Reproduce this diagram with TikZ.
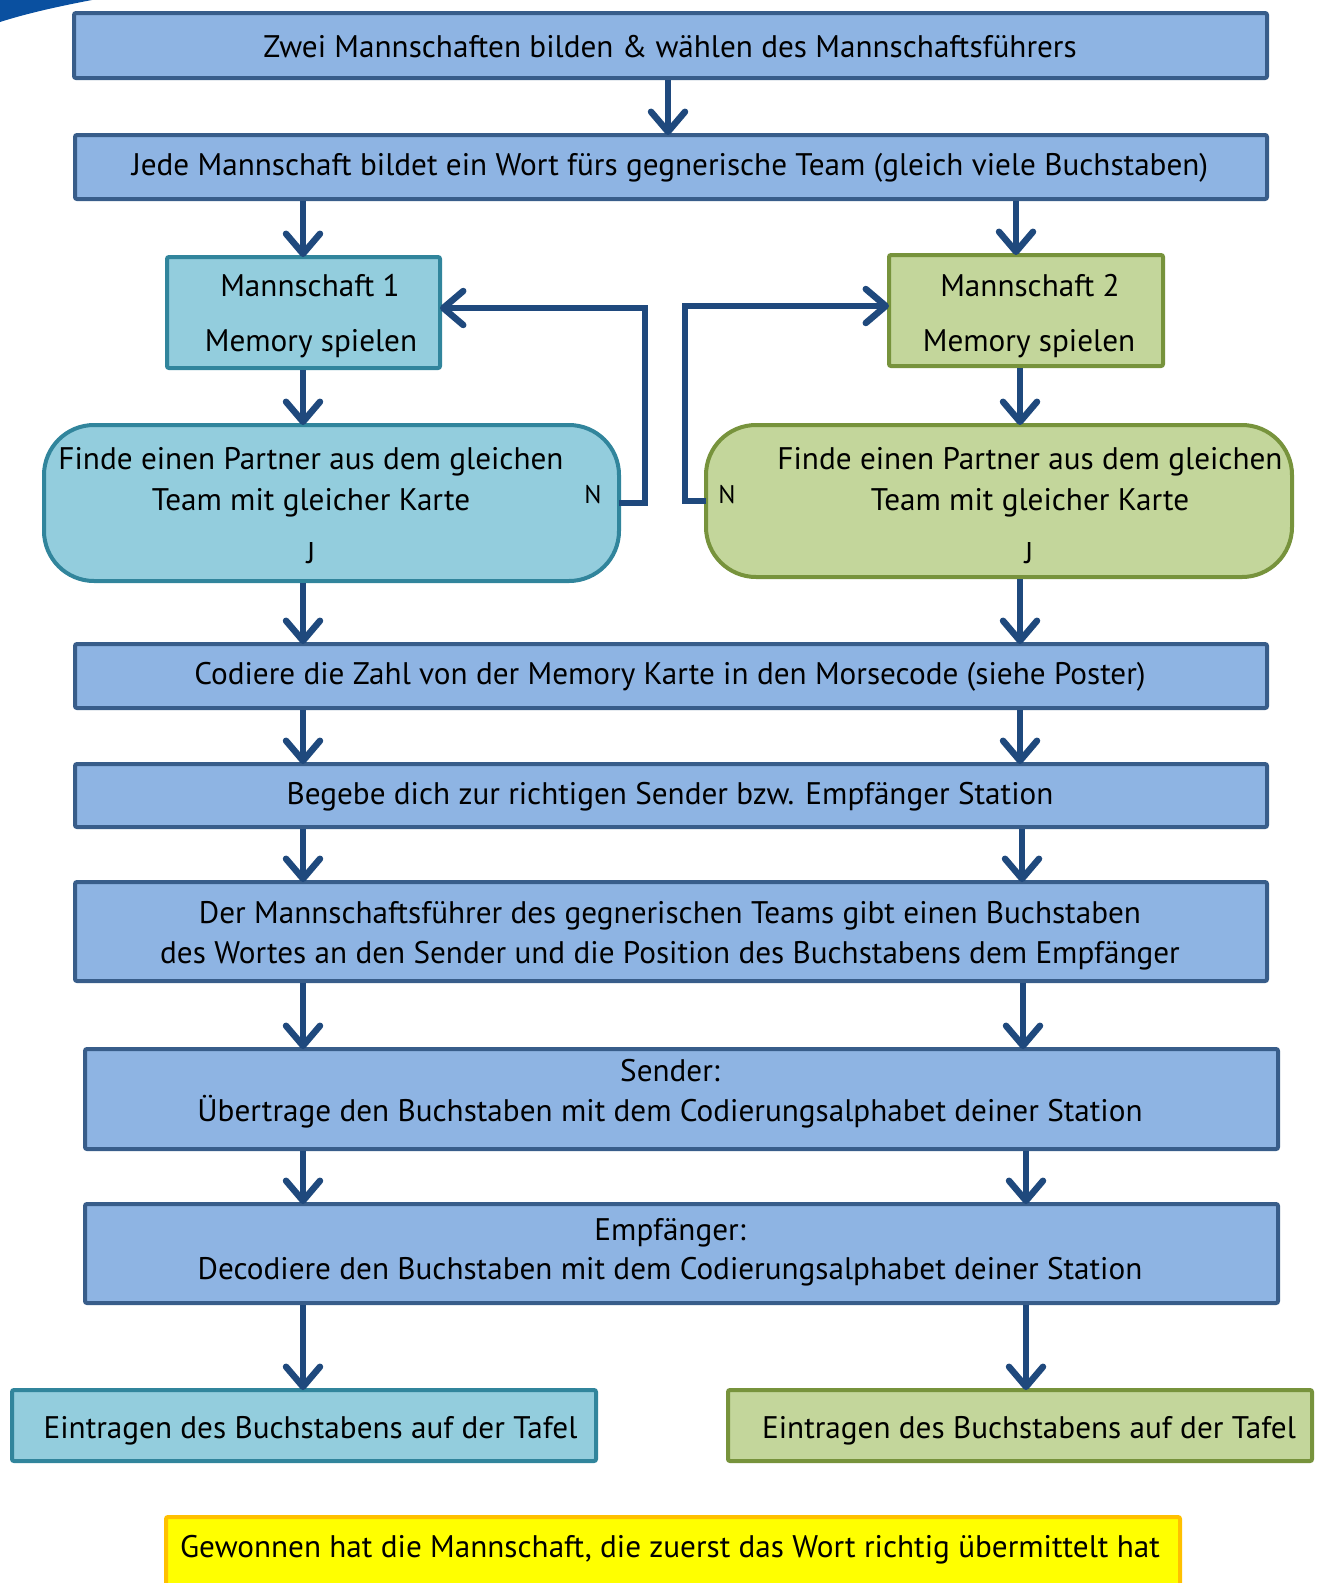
\documentclass[tikz,border=0pt]{standalone}
\usepackage{fontspec}
\setmainfont{PT Sans}
\usetikzlibrary{arrows.meta}
\definecolor{bfill}{HTML}{8EB4E3}
\definecolor{bdraw}{HTML}{385D8A}
\definecolor{tfill}{HTML}{93CDDD}
\definecolor{tdraw}{HTML}{31859C}
\definecolor{gfill}{HTML}{C3D69B}
\definecolor{gdraw}{HTML}{77933C}
\definecolor{arrc}{HTML}{1F497D}
\definecolor{yfill}{HTML}{FFFF00}
\definecolor{ydraw}{HTML}{FFC000}
\definecolor{swoosh}{HTML}{0A50A0}
\begin{document}
\begin{tikzpicture}[x=1pt,y=-1pt,
  base/.style={line width=4pt, inner sep=0pt, outer sep=0pt, rounded corners=2pt, rectangle},
  bluebox/.style={base, draw=bdraw, fill=bfill},
  tealbox/.style={base, draw=tdraw, fill=tfill},
  greenbox/.style={base, draw=gdraw, fill=gfill},
  yelbox/.style={base, draw=ydraw, fill=yfill},
  txt/.style={font=\fontsize{31.2}{36}\selectfont, inner sep=0pt, anchor=base},
  small/.style={font=\fontsize{25.5}{28}\selectfont, inner sep=0pt, anchor=base},
  jtxt/.style={font=\fontsize{30}{34}\selectfont, inner sep=0pt, anchor=base},
  arr/.style={draw=arrc, line width=6.5pt, shorten <=2pt, -{Straight Barb[length=20pt,width=34pt,round]}},
  loop/.style={arr, line join=miter, shorten <=0pt}]
\useasboundingbox (0,0) rectangle (1321,1583);
\clip (0,0) rectangle (1321,1583);
\fill[swoosh] (0,0) -- (92,0) .. controls (55,7) and (25,14) .. (0,22) -- cycle;

% boxes
\node[bluebox, minimum width=1193pt, minimum height=65pt] (b1) at (670.5,45.5) {};
\node[bluebox, minimum width=1192pt, minimum height=64pt] (b2) at (671,167) {};
\node[tealbox, minimum width=273pt, minimum height=111pt] (m1) at (303.5,312.5) {};
\node[greenbox, minimum width=274pt, minimum height=111pt] (m2) at (1026,310.5) {};
\node[tealbox, rounded corners=50pt, minimum width=575pt, minimum height=156pt] (lr) at (331.5,503) {};
\node[greenbox, rounded corners=50pt, minimum width=586pt, minimum height=152pt] (rr) at (999,501) {};
\node[bluebox, minimum width=1192pt, minimum height=64pt] (cod) at (671,676) {};
\node[bluebox, minimum width=1192pt, minimum height=63pt] (beg) at (671,795.5) {};
\node[bluebox, minimum width=1192pt, minimum height=99pt] (der) at (671,931.5) {};
\node[bluebox, minimum width=1193pt, minimum height=100pt] (sen) at (681.5,1099) {};
\node[bluebox, minimum width=1193pt, minimum height=99pt] (emp) at (681.5,1253.5) {};
\node[tealbox, minimum width=584pt, minimum height=71pt] (el) at (304,1425.5) {};
\node[greenbox, minimum width=584pt, minimum height=71pt] (er) at (1020,1425.5) {};
\node[yelbox, minimum width=1014pt, minimum height=81pt] (yb) at (673,1557.5) {};

% texts
\node[txt] (t1) at (670,57.5) {Zwei Mannschaften bilden \& wählen des Mannschaftsführers};
\node[txt] (t2) at (670,175.5) {Jede Mannschaft bildet ein Wort fürs gegnerische Team (gleich viele Buchstaben)};
\node[txt] (m1a) at (310,296) {Mannschaft 1};
\node[txt] (m1b) at (311,351) {Memory spielen};
\node[txt] (m2a) at (1030,296) {Mannschaft 2};
\node[txt] (m2b) at (1029,351) {Memory spielen};
\node[txt] (lra) at (311,469.5) {Finde einen Partner aus dem gleichen};
\node[txt] (lrb) at (311,510) {Team mit gleicher Karte};
\node[jtxt] (lrj) at (311,563) {J};
\node[small] (lrn) at (593,503) {N};
\node[txt] (rra) at (1030,469.5) {Finde einen Partner aus dem gleichen};
\node[txt] (rrb) at (1030,510) {Team mit gleicher Karte};
\node[jtxt] (rrj) at (1029,563) {J};
\node[small] (rrn) at (727,503) {N};
\node[txt] (codt) at (670,684.6) {Codiere die Zahl von der Memory Karte in den Morsecode (siehe Poster)};
\node[txt] (begt) at (670,804) {Begebe dich zur richtigen Sender bzw. Empfänger Station};
\node[txt] (dera) at (670,923) {Der Mannschaftsführer des gegnerischen Teams gibt einen Buchstaben};
\node[txt] (derb) at (670,963) {des Wortes an den Sender und die Position des Buchstabens dem Empfänger};
\node[txt] (sena) at (670,1081.5) {Sender:};
\node[txt] (senb) at (670,1121) {Übertrage den Buchstaben mit dem Codierungsalphabet deiner Station};
\node[txt] (empa) at (670,1240) {Empfänger:};
\node[txt] (empb) at (670,1279.5) {Decodiere den Buchstaben mit dem Codierungsalphabet deiner Station};
\node[txt] (elt) at (310.5,1438) {Eintragen des Buchstabens auf der Tafel};
\node[txt] (ert) at (1029,1438) {Eintragen des Buchstabens auf der Tafel};
\node[txt] (ybt) at (670,1557) {Gewonnen hat die Mannschaft, die zuerst das Wort richtig übermittelt hat};

% column coordinates
\coordinate (L) at (303,0);
\coordinate (R0) at (1016,0);
\coordinate (R1) at (1020,0);
\coordinate (R2) at (1022,0);
\coordinate (R3) at (1023,0);
\coordinate (R4) at (1026,0);
\coordinate (lk) at (645,308);
\coordinate (rk) at (685,306);

% arrows
\draw[arr] (b1.south -| 668,0) -- (b2.north -| 668,0);
\draw[arr] (b2.south -| L) -- (m1.north -| L);
\draw[arr] (m1.south -| L) -- (lr.north -| L);
\draw[arr] (lr.south -| L) -- (cod.north -| L);
\draw[arr] (cod.south -| L) -- (beg.north -| L);
\draw[arr] (beg.south -| L) -- (der.north -| L);
\draw[arr] (der.south -| L) -- (sen.north -| L);
\draw[arr] (sen.south -| L) -- (emp.north -| L);
\draw[arr] (emp.south -| L) -- (el.north -| L);

\draw[arr] (b2.south -| R0) -- (m2.north -| R0);
\draw[arr] (m2.south -| R1) -- (rr.north -| R1);
\draw[arr] (rr.south -| R1) -- (cod.north -| R1);
\draw[arr] (cod.south -| R1) -- (beg.north -| R1);
\draw[arr] (beg.south -| R2) -- (der.north -| R2);
\draw[arr] (der.south -| R3) -- (sen.north -| R3);
\draw[arr] (sen.south -| R4) -- (emp.north -| R4);
\draw[arr] (emp.south -| R4) -- (er.north -| R4);

\draw[loop] (lr.east) -| (lk) -- (m1.east |- lk);
\draw[loop] (rr.west) -| (rk) -- (m2.west |- rk);
\end{tikzpicture}
\end{document}
